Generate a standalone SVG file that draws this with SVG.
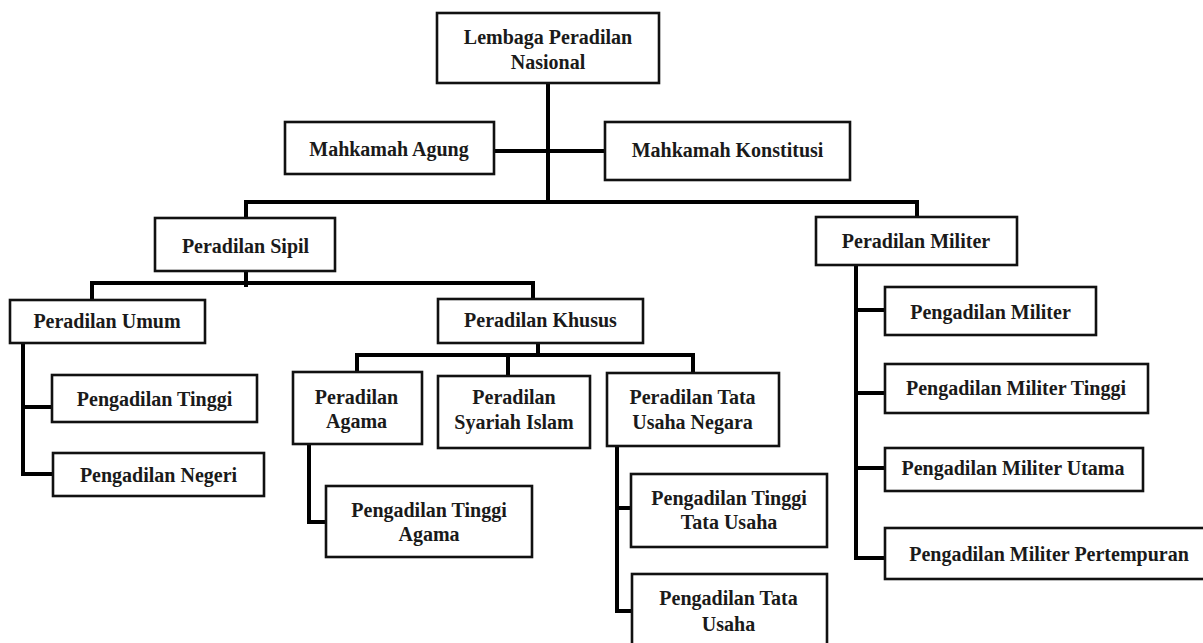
<svg xmlns="http://www.w3.org/2000/svg" width="1203" height="643" viewBox="0 0 1203 643">
<style>
.box{fill:#fff;stroke:#111;stroke-width:2.6}
.t{font-family:"Liberation Serif","Times New Roman",serif;font-weight:bold;font-size:20px;fill:#1a1a1a;text-anchor:middle}
.c{stroke:#000;stroke-width:4;fill:none;stroke-linecap:square}
</style>
<rect width="1203" height="643" fill="#fff"/>
<g id="connectors">
<path class="c" d="M548 84V202"/>
<path class="c" d="M495 151H604"/>
<path class="c" d="M246 217V202H917V216"/>
<path class="c" d="M246 272V285"/>
<path class="c" d="M92 299V283H533V298"/>
<path class="c" d="M538 344V355"/>
<path class="c" d="M357 371V355H693V372"/>
<path class="c" d="M508 355V376"/>
<path class="c" d="M23 344V474H52"/>
<path class="c" d="M23 407H51"/>
<path class="c" d="M309 445V522H325"/>
<path class="c" d="M617 447V611H631"/>
<path class="c" d="M617 508H630"/>
<path class="c" d="M856 266V558H884"/>
<path class="c" d="M856 310H884"/>
<path class="c" d="M856 393H884"/>
<path class="c" d="M856 468H884"/>
</g>
<g id="n-lembaga"><rect class="box" x="437" y="13" width="222" height="70"/><text class="t" x="548" y="43.5">Lembaga Peradilan</text><text class="t" x="548" y="68.5">Nasional</text></g>
<g id="n-ma"><rect class="box" x="285" y="122" width="209" height="52"/><text class="t" x="389" y="156">Mahkamah Agung</text></g>
<g id="n-mk"><rect class="box" x="605" y="122" width="245" height="58"/><text class="t" x="727.5" y="157">Mahkamah Konstitusi</text></g>
<g id="n-sipil"><rect class="box" x="155" y="218" width="180" height="53"/><text class="t" x="245.5" y="253">Peradilan Sipil</text></g>
<g id="n-militer"><rect class="box" x="816" y="217" width="201" height="48"/><text class="t" x="916" y="247.5">Peradilan Militer</text></g>
<g id="n-umum"><rect class="box" x="10" y="300" width="195" height="43"/><text class="t" x="107" y="328">Peradilan Umum</text></g>
<g id="n-khusus"><rect class="box" x="438" y="299" width="205" height="44"/><text class="t" x="540.5" y="327">Peradilan Khusus</text></g>
<g id="n-pt"><rect class="box" x="52" y="375" width="205" height="47"/><text class="t" x="154.5" y="406">Pengadilan Tinggi</text></g>
<g id="n-pn"><rect class="box" x="53" y="453" width="211" height="43"/><text class="t" x="158.5" y="482">Pengadilan Negeri</text></g>
<g id="n-agama"><rect class="box" x="293" y="372" width="129" height="72"/><text class="t" x="356.5" y="404">Peradilan</text><text class="t" x="356.5" y="428">Agama</text></g>
<g id="n-syariah"><rect class="box" x="438" y="376" width="152" height="72"/><text class="t" x="514" y="404">Peradilan</text><text class="t" x="514" y="429">Syariah Islam</text></g>
<g id="n-tun"><rect class="box" x="607" y="373" width="172" height="73"/><text class="t" x="692.5" y="404">Peradilan Tata</text><text class="t" x="692.5" y="429">Usaha Negara</text></g>
<g id="n-pta"><rect class="box" x="326" y="486" width="206" height="71"/><text class="t" x="429" y="517">Pengadilan Tinggi</text><text class="t" x="429" y="541">Agama</text></g>
<g id="n-pttu"><rect class="box" x="631" y="474" width="196" height="73"/><text class="t" x="729" y="505">Pengadilan Tinggi</text><text class="t" x="729" y="529">Tata Usaha</text></g>
<g id="n-ptu"><rect class="box" x="632" y="574" width="195" height="80"/><text class="t" x="728.5" y="605">Pengadilan Tata</text><text class="t" x="728.5" y="630.5">Usaha</text></g>
<g id="n-pm"><rect class="box" x="885" y="287" width="211" height="48"/><text class="t" x="990.5" y="318.5">Pengadilan Militer</text></g>
<g id="n-pmt"><rect class="box" x="885" y="364" width="263" height="49"/><text class="t" x="1016" y="395">Pengadilan Militer Tinggi</text></g>
<g id="n-pmu"><rect class="box" x="885" y="448" width="258" height="43"/><text class="t" x="1013" y="475">Pengadilan Militer Utama</text></g>
<g id="n-pmp"><rect class="box" x="885" y="528" width="330" height="51"/><text class="t" x="1049" y="561">Pengadilan Militer Pertempuran</text></g>
</svg>
